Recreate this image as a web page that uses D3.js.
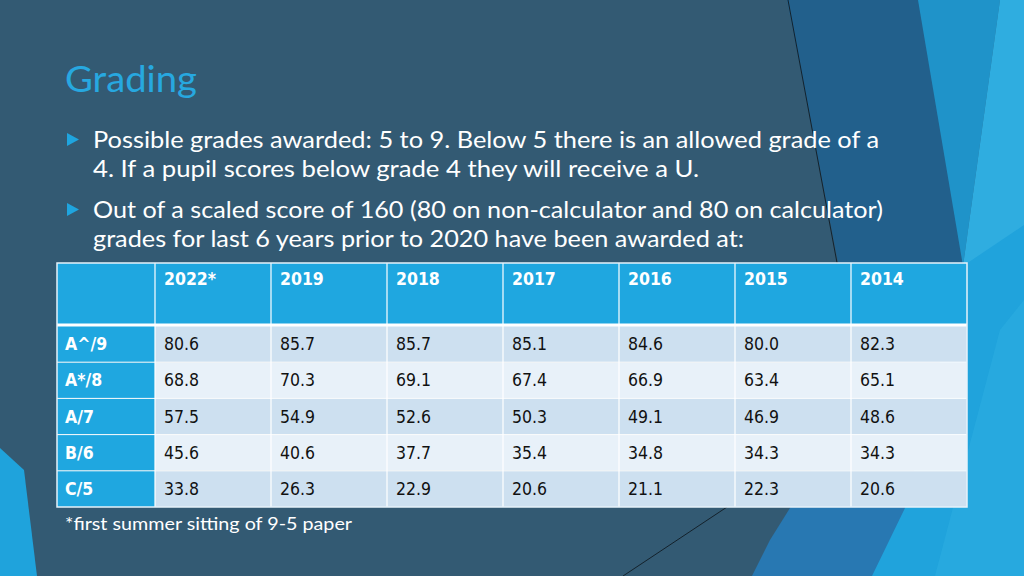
<!DOCTYPE html>
<html><head><meta charset="utf-8">
<script src="https://cdn.jsdelivr.net/npm/d3@7"></script>
<style>html,body{margin:0;padding:0;background:#335a73;overflow:hidden}svg{display:block}</style>
</head><body>
<svg id="c" width="1024" height="576"></svg>
<script>
const title = "Grading";
const bullets = [
  ["Possible grades awarded: 5 to 9. Below 5 there is an allowed grade of a",
   "4. If a pupil scores below grade 4 they will receive a U."],
  ["Out of a scaled score of 160 (80 on non-calculator and 80 on calculator)",
   "grades for last 6 years prior to 2020 have been awarded at:"]
];
const years = ["2022*", "2019", "2018", "2017", "2016", "2015", "2014"];
const grades = ["A^/9", "A*/8", "A/7", "B/6", "C/5"];
const gradeA9 = [80.6, 85.7, 85.7, 85.1, 84.6, 80.0, 82.3];
const gradeA8 = [68.8, 70.3, 69.1, 67.4, 66.9, 63.4, 65.1];
const gradeA7 = [57.5, 54.9, 52.6, 50.3, 49.1, 46.9, 48.6];
const gradeB6 = [45.6, 40.6, 37.7, 35.4, 34.8, 34.3, 34.3];
const gradeC5 = [33.8, 26.3, 22.9, 20.6, 21.1, 22.3, 20.6];
const footnote = "*first summer sitting of 9-5 paper";

const rows = [gradeA9, gradeA8, gradeA7, gradeB6, gradeC5];

const svg = d3.select("#c");

// background decoration
const bg = svg.append("g");
bg.append("rect").attr("width",1024).attr("height",576).attr("fill","#335a73");
const poly = (pts, fill, op) => bg.append("path").attr("d", d3.line()(pts) + "Z").attr("fill", fill).attr("opacity", op||1);
poly([[787,0],[1024,0],[1024,576],[752,576],[790,508],[850,440],[838,262]], "#22608c");
poly([[850,400],[1024,330],[1024,576],[752,576],[770,540],[790,508]], "#2878b2");
poly([[963,266],[1024,215],[1024,576],[872,576],[905,508]], "#20a3dc");
poly([[918,0],[1000,0],[963,266]], "#1f93c9");
poly([[1000,0],[1024,0],[1024,225],[963,266]], "#2fade0");
poly([[1000,330],[1024,300],[1024,576],[935,576]], "#2eaee2", 0.55);
poly([[0,448],[24,470],[37,576],[0,576]], "#1fa3dc");
bg.append("line").attr("x1",788).attr("y1",0).attr("x2",838).attr("y2",268).attr("stroke","#14222c").attr("stroke-width",1);
bg.append("line").attr("x1",727).attr("y1",507).attr("x2",623).attr("y2",576).attr("stroke","#14222c").attr("stroke-width",1);

// title
svg.append("text").attr("x",65).attr("y",92).text(title)
  .attr("font-family","Lato, 'Open Sans', sans-serif").attr("font-size",37)
  .attr("fill","#27a8e0").attr("textLength",132).attr("lengthAdjust","spacingAndGlyphs");

// bullets
const lineEnds = [[879, 699],[883, 744]];
const baseY = [[148, 177],[218, 247]];
bullets.forEach((b, i) => {
  const by = baseY[i][0];
  svg.append("path").attr("d", `M67,${by-15} L79,${by-8.5} L67,${by-2} Z`).attr("fill","#1fa5df");
  b.forEach((ln, j) => {
    svg.append("text").attr("x",93).attr("y",baseY[i][j]).text(ln)
      .attr("font-family","Lato, 'Open Sans', sans-serif").attr("font-size",23)
      .attr("fill","#ffffff").attr("textLength", lineEnds[i][j]-93).attr("lengthAdjust","spacingAndGlyphs");
  });
});

// table
const tX0 = 57, labelW = 98, tX1 = 967, tY0 = 263, headerBottom = 325, tY1 = 507;
const x = d3.scaleBand().domain(years).range([tX0+labelW, tX1]);
const y = d3.scaleBand().domain(grades).range([headerBottom+1, tY1]);
const tbl = svg.append("g");
const F = "'DejaVu Sans Condensed', 'DejaVu Sans', Verdana, sans-serif";

tbl.append("rect").attr("x",tX0).attr("y",tY0).attr("width",tX1-tX0).attr("height",headerBottom-tY0).attr("fill","#1fa7e0");
tbl.selectAll(".lab").data(grades).join("rect")
  .attr("x",tX0).attr("y",d=>y(d)).attr("width",labelW).attr("height",y.bandwidth()).attr("fill","#1fa7e0");
grades.forEach((g, ri) => {
  tbl.selectAll(".r"+ri).data(rows[ri]).join("rect")
    .attr("x",(d,i)=>x(years[i])).attr("y",y(g)).attr("width",x.bandwidth()).attr("height",y.bandwidth())
    .attr("fill", ri%2===0 ? "#cde0f0" : "#e8f1f9");
  tbl.selectAll(".t"+ri).data(rows[ri]).join("text")
    .attr("x",(d,i)=>x(years[i])+9).attr("y",y(g)+y.bandwidth()/2+6)
    .attr("font-family",F).attr("font-size",17.5).attr("fill","#111")
    .text(d=>d.toFixed(1));
  tbl.append("text").attr("x",tX0+8).attr("y",y(g)+y.bandwidth()/2+6)
    .attr("font-family",F).attr("font-size",17.5).attr("font-weight","bold").attr("fill","#fff").text(g);
});
tbl.selectAll(".h").data(years).join("text")
  .attr("x",d=>x(d)+9).attr("y",285)
  .attr("font-family",F).attr("font-size",17.5).attr("font-weight","bold").attr("fill","#fff").text(d=>d);

const gl = tbl.append("g").attr("stroke","#ffffff");
years.forEach(d => gl.append("line").attr("x1",x(d)).attr("x2",x(d)).attr("y1",tY0).attr("y2",tY1).attr("stroke-width",1.2));
grades.forEach((g,i) => { if(i>0) gl.append("line").attr("x1",tX0).attr("x2",tX1).attr("y1",y(g)).attr("y2",y(g)).attr("stroke-width",1); });
gl.append("line").attr("x1",tX0).attr("x2",tX1).attr("y1",headerBottom).attr("y2",headerBottom).attr("stroke-width",3);
tbl.append("rect").attr("x",tX0).attr("y",tY0).attr("width",tX1-tX0).attr("height",tY1-tY0)
  .attr("fill","none").attr("stroke","#e6f2fa").attr("stroke-width",1.5);

svg.append("text").attr("x",65).attr("y",530).text(footnote)
  .attr("font-family","Lato, 'Open Sans', sans-serif").attr("font-size",18).attr("fill","#fff")
  .attr("textLength",287).attr("lengthAdjust","spacingAndGlyphs");
</script>
</body></html>
